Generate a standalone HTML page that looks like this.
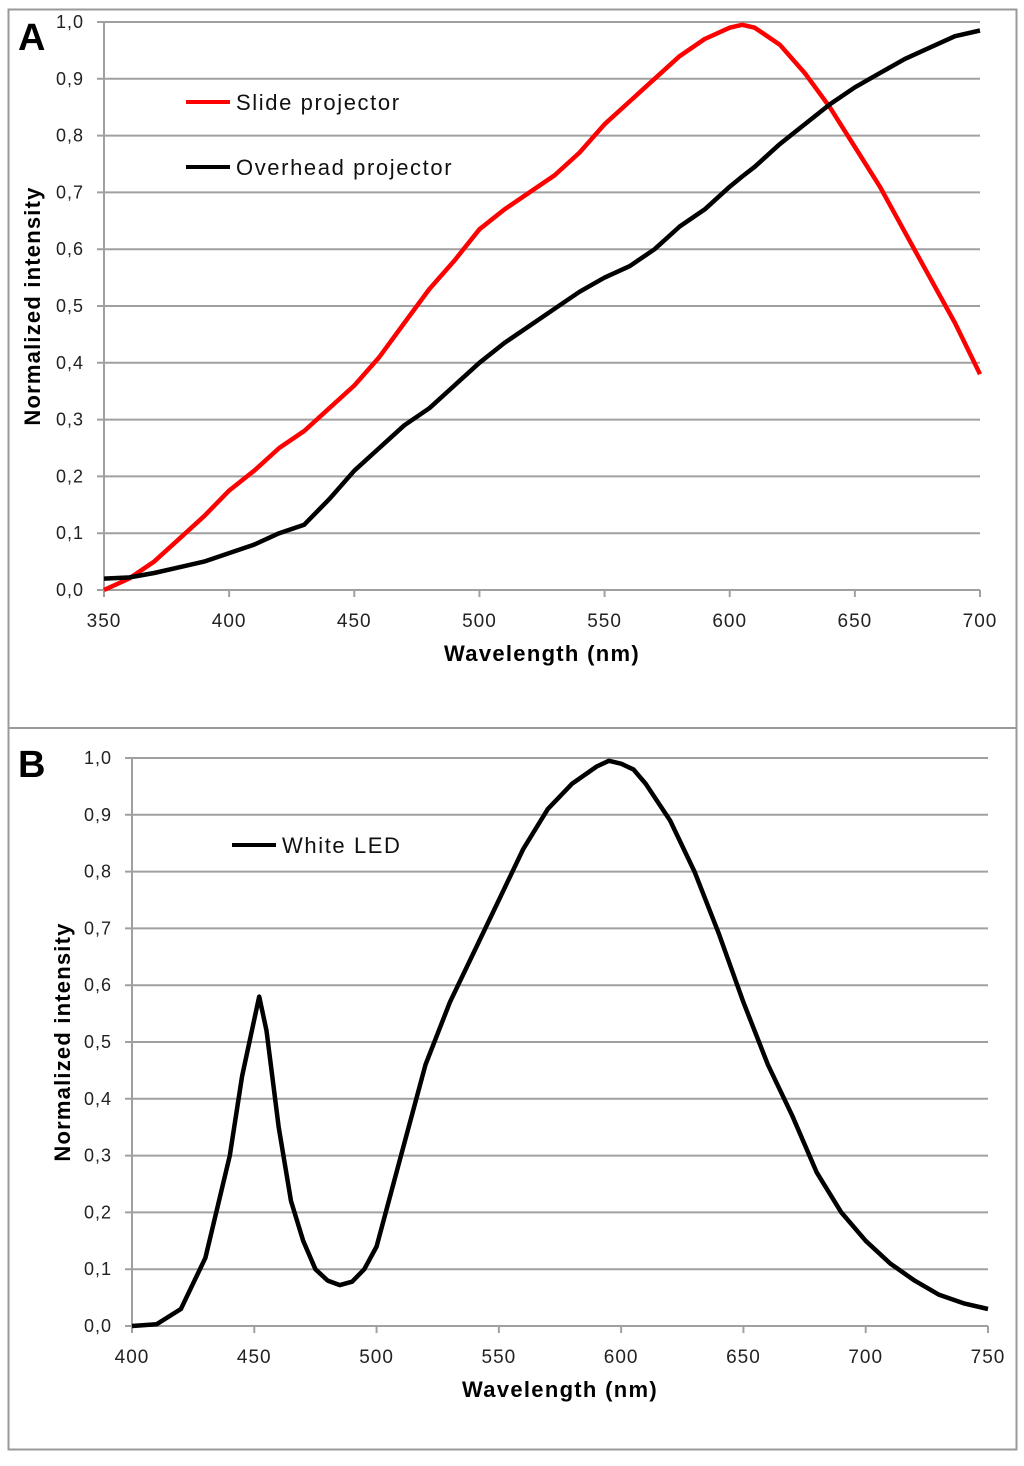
<!DOCTYPE html>
<html><head><meta charset="utf-8"><style>
body{margin:0;background:#fff;font-family:"Liberation Sans",sans-serif}
svg text{font-family:"Liberation Sans",sans-serif}
</style></head><body>
<svg id="s" width="1024" height="1461" xmlns="http://www.w3.org/2000/svg">
<rect x="8.5" y="9.5" width="1008" height="1440" fill="#fff" stroke="#999" stroke-width="2"/>
<line x1="8" y1="728" x2="1017" y2="728" stroke="#999" stroke-width="2"/>
<text x="18" y="50" font-size="38" font-weight="bold">A</text>
<text x="18" y="777" font-size="38" font-weight="bold">B</text>
<g id="ga"></g>
<g id="gb"></g>
</svg>
<script>
const aWave=[350,360,370,380,390,400,410,420,430,440,450,460,470,480,490,500,510,520,530,540,550,560,570,580,590,600,605,610,620,630,640,650,660,670,680,690,700];
const slideVals=[0.0,0.02,0.05,0.09,0.13,0.175,0.21,0.25,0.28,0.32,0.36,0.41,0.47,0.53,0.58,0.635,0.67,0.70,0.73,0.77,0.82,0.86,0.90,0.94,0.97,0.99,0.995,0.99,0.96,0.91,0.85,0.78,0.71,0.63,0.55,0.47,0.38];
const overheadVals=[0.02,0.022,0.03,0.04,0.05,0.065,0.08,0.10,0.115,0.16,0.21,0.25,0.29,0.32,0.36,0.40,0.435,0.465,0.495,0.525,0.55,0.57,0.60,0.64,0.67,0.71,0.728,0.745,0.785,0.82,0.855,0.885,0.91,0.935,0.955,0.975,0.985];
const bWave=[400,410,420,430,440,445,450,452,455,460,465,470,475,480,485,490,495,500,510,520,530,540,550,560,570,580,590,595,600,605,610,620,630,640,650,660,670,680,690,700,710,720,730,740,750];
const ledVals=[0.0,0.003,0.03,0.12,0.30,0.44,0.54,0.58,0.52,0.35,0.22,0.15,0.10,0.08,0.072,0.078,0.10,0.14,0.30,0.46,0.57,0.66,0.75,0.84,0.91,0.955,0.985,0.995,0.99,0.98,0.955,0.89,0.80,0.69,0.57,0.46,0.37,0.27,0.20,0.15,0.11,0.08,0.055,0.04,0.03];
const yTicks=["0,0","0,1","0,2","0,3","0,4","0,5","0,6","0,7","0,8","0,9","1,0"];
const yTickVals=[0,0.1,0.2,0.3,0.4,0.5,0.6,0.7,0.8,0.9,1.0];
const aXTicks=[350,400,450,500,550,600,650,700];
const bXTicks=[400,450,500,550,600,650,700,750];
const NS="http://www.w3.org/2000/svg";
function mk(p,t,a){const e=document.createElementNS(NS,t);for(const k in a)e.setAttribute(k,a[k]);p.appendChild(e);return e;}
function chart(g,o){
 const sx=v=>o.x0+(v-o.xmin)/(o.xmax-o.xmin)*(o.x1-o.x0);
 const sy=v=>o.y0-v*(o.y0-o.y1);
 yTickVals.forEach((v,i)=>{
  const l=mk(g,'line',{x1:o.x0-7,x2:o.x1,y1:sy(v),y2:sy(v),stroke:'#a0a0a0','stroke-width':2});
  
  
  const t=mk(g,'text',{x:o.x0-20,y:sy(v)+6,'font-size':18,'letter-spacing':1,'text-anchor':'end',fill:'#222'});
  t.textContent=yTicks[i];
  
  
 });
 const ax=mk(g,'line',{x1:o.x0,x2:o.x0,y1:o.y1,y2:o.y0,stroke:'#a0a0a0','stroke-width':2});
 
 
 o.xt.forEach(v=>{
  const l=mk(g,'line',{x1:sx(v),x2:sx(v),y1:o.y0,y2:o.y0+7,stroke:'#a0a0a0','stroke-width':2});
  
  
  const t=mk(g,'text',{x:sx(v),y:o.y0+37,'font-size':19,'letter-spacing':1,'text-anchor':'middle',fill:'#222'});
  t.textContent=v;
  
  
 });
 const xt=mk(g,'text',{x:(o.x0+o.x1)/2,y:o.y0+71,'font-size':22,'letter-spacing':1.3,'font-weight':'bold','text-anchor':'middle'});
 xt.textContent='Wavelength (nm)';
 
 
 const yt=mk(g,'text',{x:0,y:0,'font-size':22,'letter-spacing':1.2,'font-weight':'bold','text-anchor':'middle',transform:`translate(${o.ytx},${(o.y0+o.y1)/2}) rotate(-90)`});
 yt.textContent='Normalized intensity';
 
 
 o.series.forEach(s=>{
  const d=s.x.map((w,i)=>(i?'L':'M')+sx(w).toFixed(1)+','+sy(s.y[i]).toFixed(1)).join('');
  const p=mk(g,'path',{d:d,fill:'none',stroke:s.c,'stroke-width':4.5,'stroke-linejoin':'round'});
  
  
  const ll=mk(g,'line',{x1:s.lx,x2:s.lx+44,y1:s.ly,y2:s.ly,stroke:s.c,'stroke-width':4});
  
  
  const lt=mk(g,'text',{x:s.lx+50,y:s.ly+8,'font-size':22,'letter-spacing':1.6,fill:'#111'});
  lt.textContent=s.label;
  
  
 });
}
chart(document.getElementById('ga'),{x0:104,x1:980,y0:590,y1:22,xmin:350,xmax:700,xt:aXTicks,ytx:40,series:[
 {x:aWave,y:slideVals,c:'#ff0000',n:'slide-projector',label:'Slide projector',lx:186,ly:102},
 {x:aWave,y:overheadVals,c:'#000',n:'overhead-projector',label:'Overhead projector',lx:186,ly:167}]});
chart(document.getElementById('gb'),{x0:132,x1:988,y0:1326,y1:758,xmin:400,xmax:750,xt:bXTicks,ytx:70,series:[
 {x:bWave,y:ledVals,c:'#000',n:'white-led',label:'White LED',lx:232,ly:845}]});
</script>
</body></html>
